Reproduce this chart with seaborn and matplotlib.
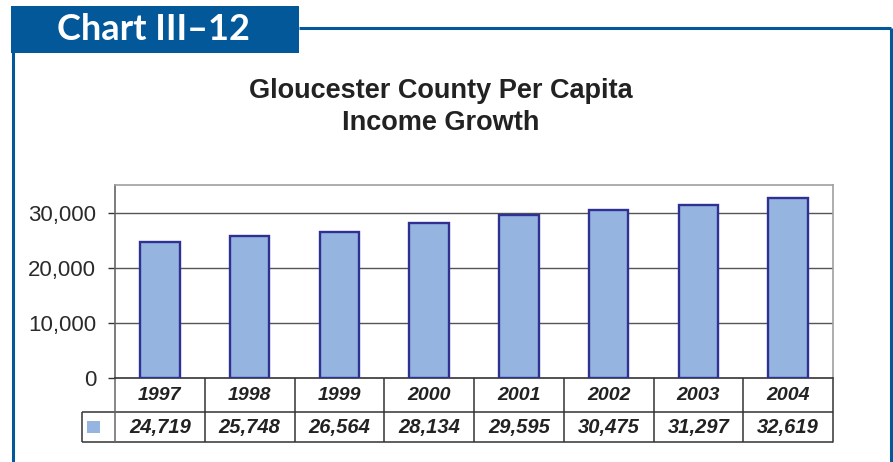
import matplotlib
matplotlib.use("Agg")
import matplotlib.pyplot as plt
import matplotlib.patches as mpatches
import matplotlib.transforms as mtransforms
from matplotlib.ticker import FuncFormatter
import seaborn as sns
import pandas as pd

# Per capita income, Gloucester County
years = ["1997", "1998", "1999", "2000", "2001", "2002", "2003", "2004"]
income = [24719, 25748, 26564, 28134, 29595, 30475, 31297, 32619]
y_ticks = [0, 10000, 20000, 30000]

chart_label = "Chart III\u201312"
title = "Gloucester County Per Capita\nIncome Growth"

BLUE = "#03589A"
BAR = "#95B5E0"
BAR_EDGE = "#2E3192"
INK = "#222222"

sns.set_theme(style="white")
plt.rcParams["font.family"] = ["Liberation Sans", "DejaVu Sans"]

W, H = 893, 462
fig = plt.figure(figsize=(W / 100, H / 100), dpi=100)
fig.patch.set_facecolor("white")


def fx(px):
    return px / W


def fy(py):
    return 1 - py / H


# Page frame: header tab, top rule and side rules
fig.add_artist(mpatches.Rectangle((fx(11), fy(53)), fx(299) - fx(11), fy(6) - fy(53),
                                  transform=fig.transFigure, facecolor=BLUE,
                                  edgecolor="none", zorder=5))
fig.add_artist(plt.Line2D([fx(299), fx(891)], [fy(28), fy(28)], transform=fig.transFigure,
                          color=BLUE, lw=2.2, solid_capstyle="butt"))
fig.add_artist(plt.Line2D([fx(891), fx(891)], [fy(28), fy(470)], transform=fig.transFigure,
                          color=BLUE, lw=2.2, solid_capstyle="butt"))
fig.add_artist(plt.Line2D([fx(12.5), fx(12.5)], [fy(50), fy(470)], transform=fig.transFigure,
                          color=BLUE, lw=2.2, solid_capstyle="butt"))
fig.text(fx(57), fy(30), chart_label, color="white", fontsize=26, fontweight="bold",
         family=["Lato", "DejaVu Sans"], ha="left", va="center", zorder=6)

fig.text(fx(441), fy(107), title, ha="center", va="center", fontsize=19.5,
         fontweight="bold", color=INK, linespacing=1.3)

# Plot area
left, right, top, bottom = 115, 833, 185, 378
ax = fig.add_axes([fx(left), fy(bottom), fx(right) - fx(left), fy(top) - fy(bottom)])
df = pd.DataFrame({"year": years, "income": income})
sns.barplot(data=df, x="year", y="income", color=BAR, edgecolor=BAR_EDGE,
            linewidth=1.7, width=0.44, saturation=1, ax=ax, zorder=3)

ax.set_xlim(-0.5, len(years) - 0.5)
ax.set_ylim(0, 35000)
ax.set_yticks(y_ticks)
ax.yaxis.set_major_formatter(FuncFormatter(lambda v, _: f"{int(v):,}"))
ax.set_xticks([])
ax.set_xlabel("")
ax.set_ylabel("")
ax.tick_params(axis="y", left=True, length=5, width=1, color="#333333",
               labelsize=16, labelcolor="#2a2a2a", pad=8.5)
for yv in y_ticks[1:]:
    ax.axhline(yv, color="#555555", lw=1, zorder=1)
for side in ("top", "right"):
    ax.spines[side].set_color("#A0A0A0")
ax.spines["left"].set_color("#666666")
ax.spines["bottom"].set_color("#333333")
for s in ax.spines.values():
    s.set_linewidth(1.2)

# Data table under the plot
axh = bottom - top
row1 = -34 / axh
row2 = -64 / axh
leg_left = (82 - left) / (right - left)
blend = mtransforms.blended_transform_factory(ax.transData, ax.transAxes)
line_kw = dict(color="#333333", lw=1.1, clip_on=False, solid_capstyle="butt")

ax.plot([leg_left, 1], [row1, row1], transform=ax.transAxes, **line_kw)
ax.plot([leg_left, 1], [row2, row2], transform=ax.transAxes, **line_kw)
ax.plot([leg_left, leg_left], [row1, row2], transform=ax.transAxes, **line_kw)
ax.plot([0, 0], [0, row2], transform=ax.transAxes, color="#666666", lw=1.1, clip_on=False)
ax.plot([1, 1], [0, row2], transform=ax.transAxes, color="#333333", lw=1.1, clip_on=False)
for i in range(len(years) - 1):
    ax.plot([i + 0.5, i + 0.5], [0, row2], transform=blend, **line_kw)

for i, (yr, val) in enumerate(zip(years, income)):
    ax.text(i, row1 / 2, yr, transform=blend, ha="center", va="center", fontsize=14,
            fontweight="bold", fontstyle="italic", color=INK, clip_on=False)
    ax.text(i, (row1 + row2) / 2, f"{val:,}", transform=blend, ha="center", va="center",
            fontsize=14.5, fontweight="bold", fontstyle="italic", color=INK, clip_on=False)

sq_w = 13 / (right - left)
sq_h = 12 / axh
ax.add_patch(mpatches.Rectangle(((87 - left) / (right - left), (row1 + row2) / 2 - sq_h / 2),
                                sq_w, sq_h, transform=ax.transAxes, facecolor=BAR,
                                edgecolor="none", clip_on=False))

fig.savefig("out.png", dpi=100)
